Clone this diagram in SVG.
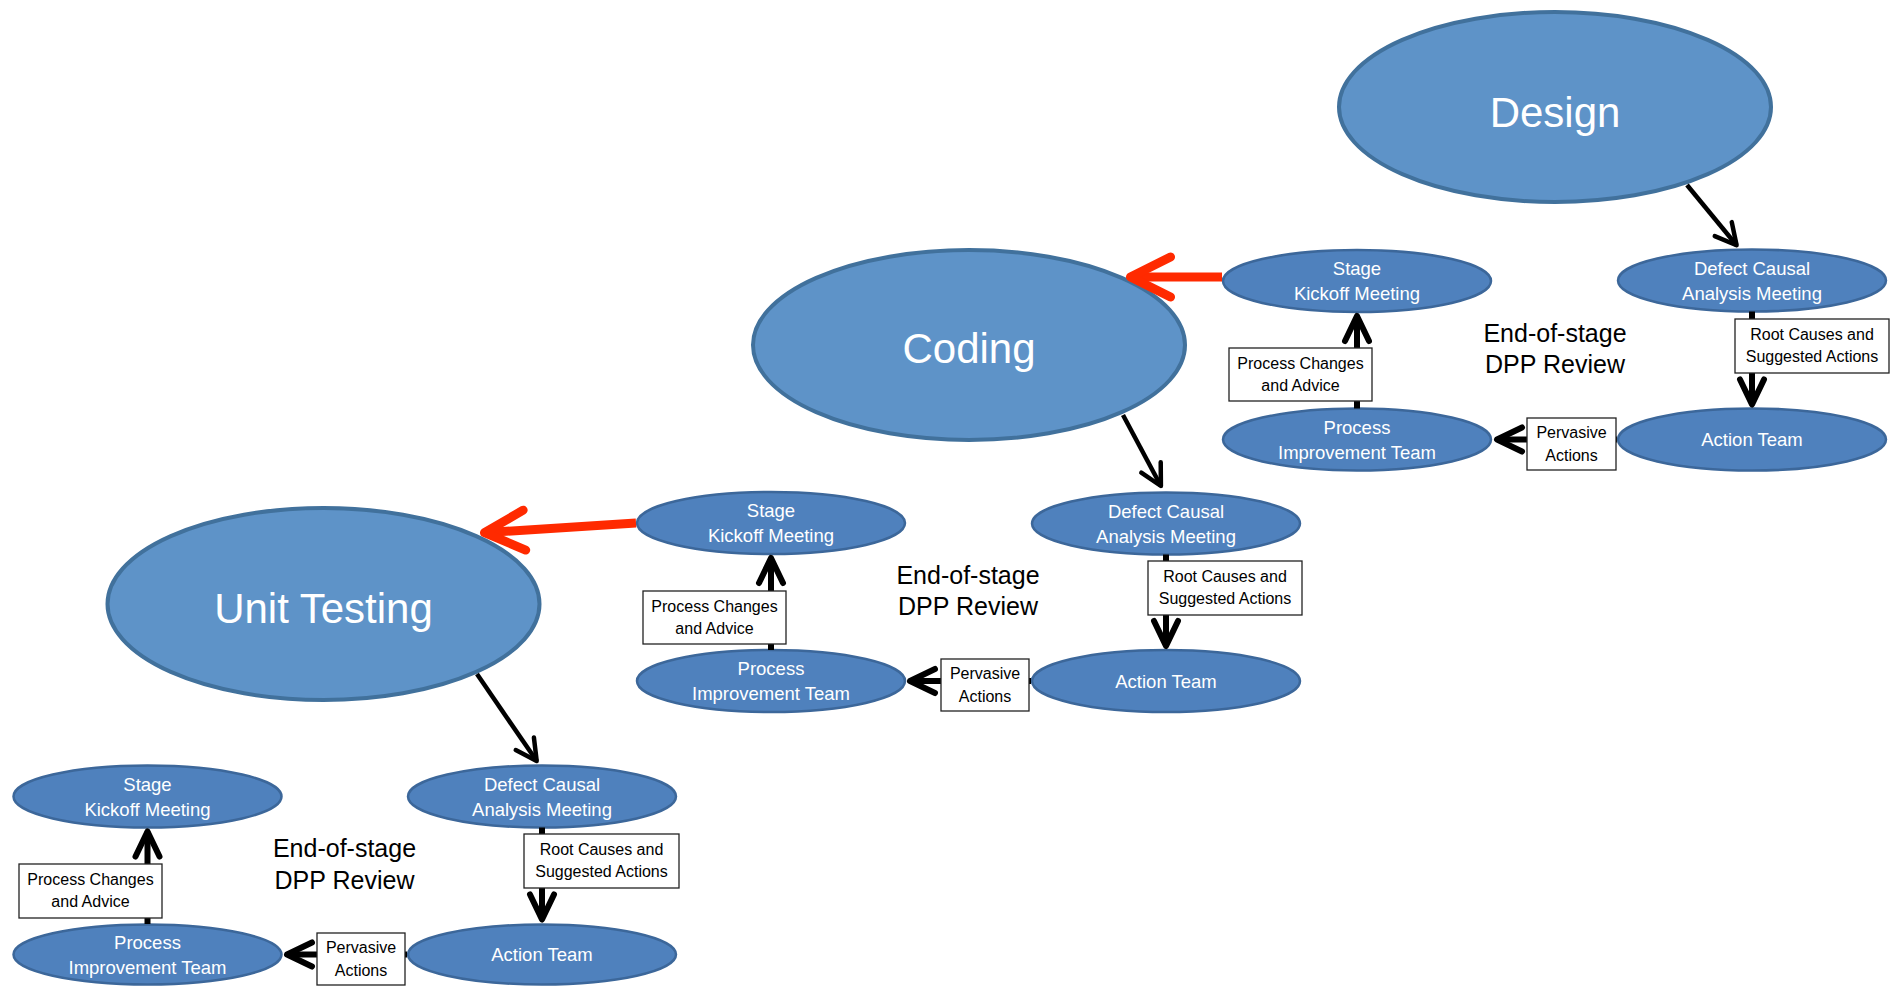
<svg xmlns="http://www.w3.org/2000/svg" width="1902" height="986" viewBox="0 0 1902 986">
<style>
.big{fill:#5E93C8;stroke:#41719C;stroke-width:4}
.sm{fill:#4F81BD;stroke:#3C679A;stroke-width:2.5}
.box{fill:#fff;stroke:#222;stroke-width:1.3}
text{font-family:"Liberation Sans",Arial,sans-serif;text-anchor:middle}
.bt{font-size:42px;fill:#fff}
.lt{font-size:18.5px;fill:#fff}
.xt{font-size:16px;fill:#000}
.et{font-size:25px;fill:#000}
.ln{stroke:#000;stroke-width:6;fill:none}
.th{stroke:#000;stroke-width:4.5;fill:none}
.rd{stroke:#FF2A00;stroke-width:9;fill:none}
</style>
<defs>
<marker id="ah" markerUnits="userSpaceOnUse" orient="auto" refX="0" refY="0" markerWidth="60" markerHeight="60" overflow="visible"><path d="M-25,-12 L0,0 L-25,12" fill="none" stroke="#000" stroke-width="6" stroke-linecap="round" stroke-linejoin="round"/></marker>
<marker id="ahs" markerUnits="userSpaceOnUse" orient="auto" refX="0" refY="0" markerWidth="60" markerHeight="60" overflow="visible"><path d="M-21,-11 L0,0 L-21,11" fill="none" stroke="#000" stroke-width="4.5" stroke-linecap="round" stroke-linejoin="round"/></marker>
<marker id="ahr" markerUnits="userSpaceOnUse" orient="auto" refX="0" refY="0" markerWidth="80" markerHeight="80" overflow="visible"><path d="M-40,-20 L0,0 L-40,20" fill="none" stroke="#FF2A00" stroke-width="9" stroke-linecap="round" stroke-linejoin="round"/></marker>
</defs>

<g id="design"><ellipse class="big" cx="1555" cy="107" rx="216" ry="95"/><text class="bt" x="1555" y="127">Design</text></g>
<g id="dca1"><ellipse class="sm" cx="1752" cy="280.5" rx="134" ry="31"/><text class="lt" x="1752" y="274.5">Defect Causal</text><text class="lt" x="1752" y="299.5">Analysis Meeting</text></g>
<g id="at1"><ellipse class="sm" cx="1752" cy="439.5" rx="134" ry="31"/><text class="lt" x="1752" y="446">Action Team</text></g>
<g id="ko1"><ellipse class="sm" cx="1357" cy="281" rx="134" ry="31"/><text class="lt" x="1357" y="275">Stage</text><text class="lt" x="1357" y="300">Kickoff Meeting</text></g>
<g id="pit1"><ellipse class="sm" cx="1357" cy="439.5" rx="134" ry="31"/><text class="lt" x="1357" y="433.5">Process</text><text class="lt" x="1357" y="458.5">Improvement Team</text></g>
<g id="review1"><text class="et" x="1555" y="342">End-of-stage</text><text class="et" x="1555" y="373">DPP Review</text></g>

<g id="coding"><ellipse class="big" cx="969" cy="345" rx="216" ry="95"/><text class="bt" x="969" y="363">Coding</text></g>
<g id="dca2"><ellipse class="sm" cx="1166" cy="523.5" rx="134" ry="31"/><text class="lt" x="1166" y="517.5">Defect Causal</text><text class="lt" x="1166" y="542.5">Analysis Meeting</text></g>
<g id="at2"><ellipse class="sm" cx="1166" cy="681" rx="134" ry="31"/><text class="lt" x="1166" y="687.5">Action Team</text></g>
<g id="ko2"><ellipse class="sm" cx="771" cy="523" rx="134" ry="31"/><text class="lt" x="771" y="517">Stage</text><text class="lt" x="771" y="542">Kickoff Meeting</text></g>
<g id="pit2"><ellipse class="sm" cx="771" cy="681" rx="134" ry="31"/><text class="lt" x="771" y="675">Process</text><text class="lt" x="771" y="700">Improvement Team</text></g>
<g id="review2"><text class="et" x="968" y="584">End-of-stage</text><text class="et" x="968" y="615">DPP Review</text></g>

<g id="unittesting"><ellipse class="big" cx="323.5" cy="604" rx="216" ry="96"/><text class="bt" x="323.5" y="623">Unit Testing</text></g>
<g id="dca3"><ellipse class="sm" cx="542" cy="796.5" rx="134" ry="31"/><text class="lt" x="542" y="790.5">Defect Causal</text><text class="lt" x="542" y="815.5">Analysis Meeting</text></g>
<g id="at3"><ellipse class="sm" cx="542" cy="954.5" rx="134" ry="30"/><text class="lt" x="542" y="961">Action Team</text></g>
<g id="ko3"><ellipse class="sm" cx="147.5" cy="796.5" rx="134" ry="31"/><text class="lt" x="147.5" y="790.5">Stage</text><text class="lt" x="147.5" y="815.5">Kickoff Meeting</text></g>
<g id="pit3"><ellipse class="sm" cx="147.5" cy="954.5" rx="134" ry="30"/><text class="lt" x="147.5" y="948.5">Process</text><text class="lt" x="147.5" y="973.5">Improvement Team</text></g>
<g id="review3"><text class="et" x="344.5" y="857">End-of-stage</text><text class="et" x="344.5" y="889">DPP Review</text></g>

<g id="connectors">
<line class="th" x1="1687" y1="185" x2="1736.6" y2="245.3" marker-end="url(#ahs)"/>
<line class="th" x1="1123" y1="415" x2="1160.9" y2="486" marker-end="url(#ahs)"/>
<line class="th" x1="477" y1="674" x2="536.7" y2="761.1" marker-end="url(#ahs)"/>
<line class="ln" x1="1752" y1="311.5" x2="1752" y2="404.5" marker-end="url(#ah)"/>
<line class="ln" x1="1617" y1="439.5" x2="1497" y2="439.5" marker-end="url(#ah)"/>
<line class="ln" x1="1357" y1="408.5" x2="1357" y2="316" marker-end="url(#ah)"/>
<line class="ln" x1="1166" y1="554.5" x2="1166" y2="646" marker-end="url(#ah)"/>
<line class="ln" x1="1031" y1="681" x2="910" y2="681" marker-end="url(#ah)"/>
<line class="ln" x1="771" y1="650" x2="771" y2="558" marker-end="url(#ah)"/>
<line class="ln" x1="542" y1="827.5" x2="542" y2="919.5" marker-end="url(#ah)"/>
<line class="ln" x1="407" y1="954.5" x2="287" y2="954.5" marker-end="url(#ah)"/>
<line class="ln" x1="147.5" y1="924" x2="147.5" y2="831.5" marker-end="url(#ah)"/>
<line class="rd" x1="1222" y1="277" x2="1130.5" y2="277" marker-end="url(#ahr)"/>
<line class="rd" x1="636" y1="523" x2="484.5" y2="532.7" marker-end="url(#ahr)"/>
<g id="rc1"><rect class="box" x="1735" y="319" width="154" height="54"/><text class="xt" x="1812" y="339.5">Root Causes and</text><text class="xt" x="1812" y="362">Suggested Actions</text></g>
<g id="pa1"><rect class="box" x="1527" y="418" width="89" height="52"/><text class="xt" x="1571.5" y="438">Pervasive</text><text class="xt" x="1571.5" y="461">Actions</text></g>
<g id="pc1"><rect class="box" x="1229" y="348" width="143" height="53"/><text class="xt" x="1300.5" y="369">Process Changes</text><text class="xt" x="1300.5" y="391">and Advice</text></g>
<g id="rc2"><rect class="box" x="1148" y="561" width="154" height="54"/><text class="xt" x="1225" y="581.5">Root Causes and</text><text class="xt" x="1225" y="604">Suggested Actions</text></g>
<g id="pa2"><rect class="box" x="941" y="659" width="88" height="52"/><text class="xt" x="985" y="679">Pervasive</text><text class="xt" x="985" y="702">Actions</text></g>
<g id="pc2"><rect class="box" x="643" y="591" width="143" height="53"/><text class="xt" x="714.5" y="612">Process Changes</text><text class="xt" x="714.5" y="634">and Advice</text></g>
<g id="rc3"><rect class="box" x="524" y="834" width="155" height="54"/><text class="xt" x="601.5" y="854.5">Root Causes and</text><text class="xt" x="601.5" y="877">Suggested Actions</text></g>
<g id="pa3"><rect class="box" x="317" y="933" width="88" height="52"/><text class="xt" x="361" y="953">Pervasive</text><text class="xt" x="361" y="976">Actions</text></g>
<g id="pc3"><rect class="box" x="19" y="864" width="143" height="54"/><text class="xt" x="90.5" y="885">Process Changes</text><text class="xt" x="90.5" y="907">and Advice</text></g>
</g>
</svg>
